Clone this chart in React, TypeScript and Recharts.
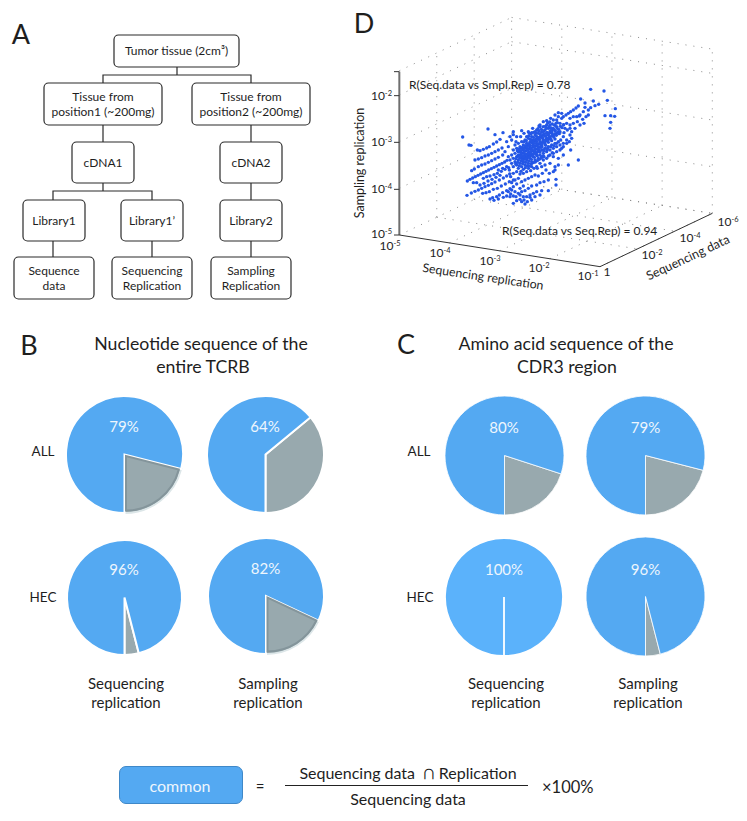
import React from "react";
import { PieChart, Pie, Cell, ScatterChart, Scatter, XAxis, YAxis, ReferenceLine } from "recharts";

const FONT = 'Lato, "Noto Sans", sans-serif';
const BLUE = "#54a9f2";
const GREY = "#98a9ae";

// ---- panel A
const flowBoxes: [string[], number, number, number, number][] = [
  [["Tumor tissue (2cm³)"], 114, 35, 125, 32],
  [["Tissue from", "position1 (~200mg)"], 44, 83, 118, 42],
  [["Tissue from", "position2 (~200mg)"], 192, 83, 118, 42],
  [["cDNA1"], 72, 142, 62, 41],
  [["cDNA2"], 220, 142, 62, 41],
  [["Library1"], 23, 200, 62, 41],
  [["Library1’"], 121, 200, 62, 41],
  [["Library2"], 220, 200, 62, 41],
  [["Sequence", "data"], 14, 257, 80, 42],
  [["Sequencing", "Replication"], 112, 257, 80, 42],
  [["Sampling", "Replication"], 211, 257, 80, 42],
];
const flowLinks: string[] = [
  "M177 67V75M103 83V75H251V83",
  "M103 125V142M251 125V142",
  "M103 183V191M53 200V191H152V200",
  "M251 183V200",
  "M53 241V257M152 241V257M251 241V257",
];

// ---- panels B and C: share of clonotypes in common, percent
const nucleotideAll = [79, 64];
const nucleotideHec = [96, 82];
const aminoAll = [80, 79];
const aminoHec = [100, 96];

// ---- panel D: axes, in projected figure units
const samplingTicks = ["-5", "-4", "-3", "-2"];
const replicationTicks = ["-5", "-4", "-3", "-2", "-1"];
const dataTicks = ["", "-2", "-4", "-6"];

const stripePoints: number[][] = [
  [382,543],[390,538],[398,534],[406,530],[414,526],[422,522],[430,518],[438,514],[446,510],[454,506],[462,502],[470,498],[478,494],[486,490],[494,486],[501,481],
  [381,586],[394,579],[405,574],[415,570],[425,565],[435,560],[445,556],[455,551],[465,546],[478,540],[490,534],[500,528],[509,522],
  [450,597],[458,593],[470,590],[478,585],[488,578],[500,572],[510,566],[520,560],[530,552],
  [462,601],[475,597],[490,592],[500,588],[512,582],[525,575],[540,565],[550,558],
  [395,512],[403,507],[415,500],[425,495],[435,492],[445,487],[455,482],[465,477],[475,472],[488,465],
  [405,480],[415,477],[425,473],[435,468],[445,465],[455,460],[465,455],[475,450],[486,444],
  [387,435],[393,436],[412,450],[420,452],[430,448],[440,444],[448,440],[460,432],[470,426],[480,418],
  [368,411],[444,387],[465,404],[489,398],[520,404],[545,392],
  [430,535],[440,530],[450,528],[462,524],[472,520],[484,514],[495,508],[506,503],[420,555],[432,550],[444,543],[456,538],[468,532],[480,526],
  [400,548],[410,548],[428,580],[438,578],[448,575],[460,568],[472,565],[484,558],[496,552],[508,545],[520,540],
];

const lowerPoints: number[][] = [
  [505,575],[515,570],[528,590],[540,598],[545,605],[552,600],[560,590],[570,585],[580,580],[590,575],[605,572],[625,572],
  [510,590],[520,588],[535,580],[545,575],[555,572],[565,565],[575,558],[590,555],[600,548],[612,545],[625,540],[648,555],[648,538],[628,520],
  [515,548],[525,540],[535,535],[545,545],[555,540],[565,535],[575,530],[585,525],[595,528],[607,520],[618,510],[640,515],[645,500],
  [512,530],[520,520],[530,515],[540,522],[550,520],[560,515],[572,512],[582,505],[592,505],[605,500],[615,495],[630,490],[645,510],[655,495],
  [500,500],[508,510],[488,505],[475,510],[520,610],[530,602],[575,600],[570,592],[585,590],[540,585],[550,590],[600,585],[562,605],[555,612],
  [685,495],[715,480],[692,450],[665,445],[640,470],[655,475],[670,465],
];

const corePoints: number[][] = [
  [505,470],[515,465],[525,460],[535,455],[510,480],[520,475],[530,470],[540,465],[550,460],[515,490],[525,485],[535,480],[545,475],[555,470],[565,465],
  [520,500],[530,495],[540,490],[550,485],[560,480],[570,475],[580,470],[590,465],[535,505],[545,500],[555,495],[565,490],[575,485],[585,480],[595,475],[605,470],
  [520,450],[530,445],[540,440],[550,435],[560,430],[570,425],[580,420],[590,415],[600,410],[610,405],[620,400],[630,395],
  [525,435],[535,430],[545,425],[555,420],[565,415],[575,410],[585,405],[595,400],[605,395],[615,390],[625,385],
  [540,455],[550,450],[560,445],[570,440],[580,435],[590,430],[600,425],[610,420],[620,415],[630,410],[640,405],[650,400],
  [555,465],[565,458],[575,452],[585,447],[595,442],[605,437],[615,432],[625,427],[635,422],[645,417],
  [545,445],[555,440],[565,435],[575,428],[585,424],[595,418],[605,412],[615,408],[625,405],[635,400],
  [575,465],[585,460],[595,455],[605,450],[615,445],[625,440],[635,435],[645,430],[655,425],
  [600,465],[610,460],[620,455],[630,450],[640,445],[650,440],[660,435],[670,430],
  [530,410],[515,420],[505,440],[495,455],[500,425],[510,410],[520,395],[528,425],[542,410],[552,400],[565,395],[578,385],[590,390],[600,380],
  [610,380],[620,375],[630,375],[640,385],[650,380],[660,395],[670,410],[680,420],[690,405],[640,360],[655,350],[665,355],
  [590,500],[600,490],[610,480],[620,475],[630,465],[640,460],[650,455],[660,450],[670,440],[680,430],[575,500],[565,505],
  [535,465],[545,458],[558,452],[568,447],[578,442],[588,437],[598,432],[608,427],[618,422],[628,417],[550,475],[562,470],[572,462],[582,455],[592,448],[602,442],
  [612,450],[622,445],[632,440],[642,437],[612,470],[625,468],[637,458],[650,430],[662,420],[672,398],[682,390],[695,395],[660,370],[648,370],[635,392],
];

const denseBand: number[][] = [
  [527,492],[533,487],[538,497],[543,483],[548,491],[552,478],[557,487],[561,474],[566,483],[570,468],[574,478],[579,463],[583,472],[588,457],[592,467],[597,451],
  [528,476],[534,468],[539,474],[544,462],[549,469],[553,456],[558,463],[563,450],[568,456],[572,445],[577,451],[582,439],[586,446],[591,434],[596,440],[600,428],
  [605,433],[609,423],[614,428],[618,418],[623,422],[627,412],[632,416],[636,407],[641,411],[645,401],[649,406],[654,396],[658,401],
  [532,452],[537,447],[542,452],[547,442],[552,446],[557,437],[562,441],[567,431],[571,436],[576,424],[581,430],[585,419],[590,424],[594,412],[599,418],[603,407],
  [608,413],[612,402],[617,408],[621,397],[626,401],[631,392],[636,395],[641,388],[646,392],[651,384],[656,388],[661,379],[666,383],[671,374],
  [543,514],[550,508],[556,503],[562,497],[568,498],[574,492],[580,488],[586,486],[592,482],[598,478],[604,474],[610,468],
  [542,468],[547,479],[552,470],[557,476],[563,461],[568,472],[573,458],[578,468],[584,451],[589,461],[595,446],[600,456],[606,441],[611,452],[617,436],[622,449],
  [552,425],[559,422],[566,408],[573,402],[581,397],[589,408],[596,392],[604,388],[612,393],[619,385],[627,380],[634,384],
  [560,410],[568,400],[572,418],[580,412],[588,399],[594,386],[601,401],[609,396],[616,379],[623,369],[629,366],[637,372],[644,376],[652,368],
];

const tailPoints: number[][] = [
  [752,268],[792,273],[802,301],[826,326],[795,347],[812,347],[824,349],[812,367],[810,385],[760,303],[722,297],[735,309],[776,313],[765,317],[752,323],
  [715,318],[708,324],[700,330],[692,335],[685,340],[678,345],[670,350],[735,322],[745,330],[730,335],[720,345],[710,350],[700,350],[690,355],
  [665,340],[655,338],[645,345],[650,360],[738,350],[728,358],[718,348],[745,345],[732,370],[712,365],[700,370],[690,375],[680,370],[670,375],
  [690,385],[675,385],[720,375],[705,385],[695,415],[688,425],[600,375],[610,365],[597,378],[620,362],[632,355],[585,395],[575,398],
];

const plotPoints = [...stripePoints, ...lowerPoints, ...corePoints, ...denseBand, ...tailPoints].map(([x, y]) => ({ x, y }));

// ---- layout of the projected box
const O = { x: 178, y: 705 };
const repStep = { x: 150.5, y: 23.75 };
const dataStep = { x: 112.3, y: -53.3 };
const zStep = 140;
const zLevels = [0, 1, 2, 3, 3.52];

type P = { x: number; y: number };
const dottedSegments = (): [P, P][] => {
  const out: [P, P][] = [];
  const back = { x: O.x + 3 * dataStep.x, y: O.y + 3 * dataStep.y };
  const end = { x: back.x + 4 * repStep.x, y: back.y + 4 * repStep.y };
  const topZ = 3.52 * zStep;
  zLevels.forEach((l) => {
    const dz = l * zStep;
    out.push([{ x: O.x, y: O.y - dz }, { x: back.x, y: back.y - dz }]);
    out.push([{ x: back.x, y: back.y - dz }, { x: end.x, y: end.y - dz }]);
  });
  for (let i = 1; i <= 3; i++) {
    const x = O.x + i * dataStep.x, y = O.y + i * dataStep.y;
    out.push([{ x, y }, { x, y: y - topZ }]);
    out.push([{ x, y }, { x: x + 4 * repStep.x, y: y + 4 * repStep.y }]);
  }
  for (let j = 1; j <= 4; j++) {
    const x = back.x + j * repStep.x, y = back.y + j * repStep.y;
    out.push([{ x, y }, { x, y: y - topZ }]);
    out.push([{ x: O.x + j * repStep.x, y: O.y + j * repStep.y }, { x, y }]);
  }
  return out;
};

const T = ({ x, y, size = 13, color = "#1e1e1e", rot = 0, children, align = "center", weight = 400 }: any) => (
  <div
    style={{
      position: "absolute", left: x, top: y, fontFamily: FONT, fontSize: size, color, fontWeight: weight,
      whiteSpace: "nowrap", lineHeight: 1,
      transform: `translate(${align === "center" ? "-50%" : align === "right" ? "-100%" : "0"},-50%) rotate(${rot}deg)`,
    }}
  >
    {children}
  </div>
);

const Pow = ({ e }: { e: string }) => (
  <span>
    10{e ? <span style={{ fontSize: 7.5, position: "relative", top: -4 }}>{e}</span> : null}
  </span>
);

const Dot = (p: any) => <circle cx={p.cx} cy={p.cy} r={1.7} fill="#2457e6" />;

const PieTile = ({ value, cx, cy, r, fill = BLUE, strokeW = 2, shade = false }: any) => {
  const pad = 6;
  const size = 2 * r + 2 * pad;
  const rows = [
    { name: "not common", value: 100 - value },
    { name: "common", value },
  ];
  return (
    <>
      <div style={{ position: "absolute", left: cx - r - pad, top: cy - r - pad }}>
        <PieChart width={size} height={size} margin={{ top: 0, right: 0, bottom: 0, left: 0 }}>
          <Pie data={rows} dataKey="value" cx={r + pad} cy={r + pad} outerRadius={r} startAngle={270} endAngle={630} isAnimationActive={false} label={false} labelLine={false}>
            <Cell fill={GREY} stroke={shade ? "#dce6e8" : "#fff"} strokeWidth={strokeW} />
            <Cell fill={fill} stroke="#fff" strokeWidth={strokeW} />
          </Pie>
          {shade ? (
            <Pie data={rows} dataKey="value" cx={r + pad + 1.5} cy={r + pad + 1.5} outerRadius={r - 4} startAngle={270} endAngle={630} isAnimationActive={false} label={false} labelLine={false}>
              <Cell fill={GREY} stroke="#84959b" strokeWidth={2} />
              <Cell fill="none" stroke="none" />
            </Pie>
          ) : null}
        </PieChart>
      </div>
      <T x={cx} y={cy - 28} size={15} color="#eef6fd">{value}%</T>
    </>
  );
};

const Scatter3D = () => {
  const segs = dottedSegments();
  const solid: [P, P, string, number][] = [
    [O, { x: O.x, y: 215 }, "#6f6f6f", 2],
    [{ x: 162, y: 215 }, { x: O.x, y: 215 }, "#333", 1],
    [O, { x: O.x + 4 * repStep.x, y: O.y + 4 * repStep.y }, "#333", 1],
    [{ x: O.x + 4 * repStep.x, y: O.y + 4 * repStep.y }, { x: O.x + 4 * repStep.x + 3 * dataStep.x, y: O.y + 4 * repStep.y + 3 * dataStep.y }, "#333", 1],
  ];
  [705, 568, 427, 287].forEach((y) => solid.push([{ x: 162, y }, { x: O.x, y }, "#333", 1]));
  return (
    <ScatterChart width={407} height={300} margin={{ top: 0, right: 0, bottom: 0, left: 0 }}>
      <XAxis type="number" dataKey="x" domain={[0, 1221]} hide allowDataOverflow />
      <YAxis type="number" dataKey="y" domain={[0, 900]} reversed hide allowDataOverflow />
      {segs.map((s, i) => (
        <ReferenceLine key={i} segment={s} stroke="#8a8a8a" strokeWidth={1} strokeDasharray="1 7" ifOverflow="visible" />
      ))}
      {solid.map((s, i) => (
        <ReferenceLine key={"s" + i} segment={[s[0], s[1]]} stroke={s[2]} strokeWidth={s[3]} ifOverflow="visible" />
      ))}
      <Scatter data={plotPoints} fill="#2457e6" shape={Dot} isAnimationActive={false} />
    </ScatterChart>
  );
};

export default function App() {
  return (
    <div style={{ position: "relative", width: 747, height: 821, overflow: "hidden", background: "#fff", margin: -8 }}>
      {/* figure frame */}
      <div style={{ position: "absolute", left: 0, top: 0, width: 746, height: 820, borderLeft: "2px solid #8c8c8c", borderTop: "2px solid #8c8c8c", borderRight: "1px solid #cfcfcf", borderBottom: "2px solid #b4b4b4", boxSizing: "border-box" }} />

      {/* Panel A */}
      <T x={21} y={33} size={27}>A</T>
      <svg width={340} height={310} style={{ position: "absolute", left: 0, top: 0 }}>
        {flowLinks.map((d, i) => (
          <path key={i} d={d} fill="none" stroke="#2a2a2a" strokeWidth={1.2} />
        ))}
        {flowBoxes.map(([, x, y, w, h], i) => (
          <rect key={i} x={x} y={y} width={w} height={h} rx={4.5} fill="#fff" stroke="#2a2a2a" strokeWidth={1.2} />
        ))}
      </svg>
      {flowBoxes.map(([lines, x, y, w, h], i) =>
        lines.map((l, j) => (
          <T key={i + "-" + j} x={x + w / 2} y={y + h / 2 + (j - (lines.length - 1) / 2) * 15} size={12}>{l}</T>
        ))
      )}

      {/* Panel D */}
      <T x={364} y={22} size={27}>D</T>
      <div style={{ position: "absolute", left: 340, top: 0 }}>
        <Scatter3D />
      </div>
      {samplingTicks.map((e, i) => (
        <T key={e} x={392} y={[234, 189, 142, 96][i]} size={12} align="right"><Pow e={e} /></T>
      ))}
      {replicationTicks.map((e, i) => (
        <T key={e} x={[390, 440, 490, 539, 588][i]} y={[246, 253, 261, 268, 276][i]} size={12}><Pow e={e} /></T>
      ))}
      {dataTicks.map((e, i) => (
        <T key={i} x={[607, 652, 690, 728][i]} y={[272, 255, 238, 222][i]} size={12}>{e ? <Pow e={e} /> : "1"}</T>
      ))}
      <T x={360} y={163} size={12.5} rot={-90}>Sampling replication</T>
      <T x={483} y={277} size={12.3} rot={8.5}>Sequencing replication</T>
      <T x={688} y={258} size={12.5} rot={-25}>Sequencing data</T>
      <T x={409} y={85} size={12} align="left">R(Seq.data vs Smpl.Rep) = 0.78</T>
      <T x={502} y={231} size={12} align="left">R(Seq.data vs Seq.Rep) = 0.94</T>

      {/* Panel B */}
      <T x={29} y={344} size={27}>B</T>
      <T x={201} y={344} size={17.7}>Nucleotide sequence of the</T>
      <T x={203} y={367} size={17.7}>entire TCRB</T>
      <T x={43} y={452} size={13.5}>ALL</T>
      <T x={43} y={598} size={13.5}>HEC</T>
      <PieTile value={nucleotideAll[0]} cx={124} cy={454} r={58.5} shade />
      <PieTile value={nucleotideAll[1]} cx={265} cy={454} r={58.5} />
      <PieTile value={nucleotideHec[0]} cx={124} cy={597} r={57.5} />
      <PieTile value={nucleotideHec[1]} cx={265.5} cy={596} r={58} shade />
      <T x={126} y={683} size={15}>Sequencing</T>
      <T x={126} y={702} size={15}>replication</T>
      <T x={268} y={683} size={15}>Sampling</T>
      <T x={268} y={702} size={15}>replication</T>

      {/* Panel C */}
      <T x={406} y={343} size={27}>C</T>
      <T x={566} y={344} size={17.7}>Amino acid sequence of the</T>
      <T x={567} y={367} size={17.7}>CDR3 region</T>
      <T x={419} y={452} size={13.5}>ALL</T>
      <T x={420} y={598} size={13.5}>HEC</T>
      <PieTile value={aminoAll[0]} cx={504} cy={455} r={59.5} strokeW={0.8} />
      <PieTile value={aminoAll[1]} cx={645.5} cy={455} r={59.5} strokeW={0.8} />
      <PieTile value={aminoHec[0]} cx={504} cy={596.5} r={59} fill="#5bb2fb" strokeW={1.8} />
      <PieTile value={aminoHec[1]} cx={645.5} cy={596.5} r={59.5} strokeW={0.8} />
      <T x={506} y={683} size={15}>Sequencing</T>
      <T x={506} y={702} size={15}>replication</T>
      <T x={648} y={683} size={15}>Sampling</T>
      <T x={648} y={702} size={15}>replication</T>

      {/* Formula */}
      <div style={{ position: "absolute", left: 119, top: 766, width: 124, height: 38, boxSizing: "border-box", background: BLUE, border: "1px solid #3f88c8", borderRadius: 7 }} />
      <T x={180} y={786} size={16} color="#eef6fd">common</T>
      <T x={260} y={786} size={15}>=</T>
      <T x={408} y={771} size={16}>Sequencing data&nbsp; <span style={{ fontSize: 19 }}>∩</span> Replication</T>
      <div style={{ position: "absolute", left: 285, top: 785, width: 243, height: 1, background: "#222" }} />
      <T x={408} y={799} size={16}>Sequencing data</T>
      <T x={542} y={787} size={16.5} align="left">×100%</T>
    </div>
  );
}
